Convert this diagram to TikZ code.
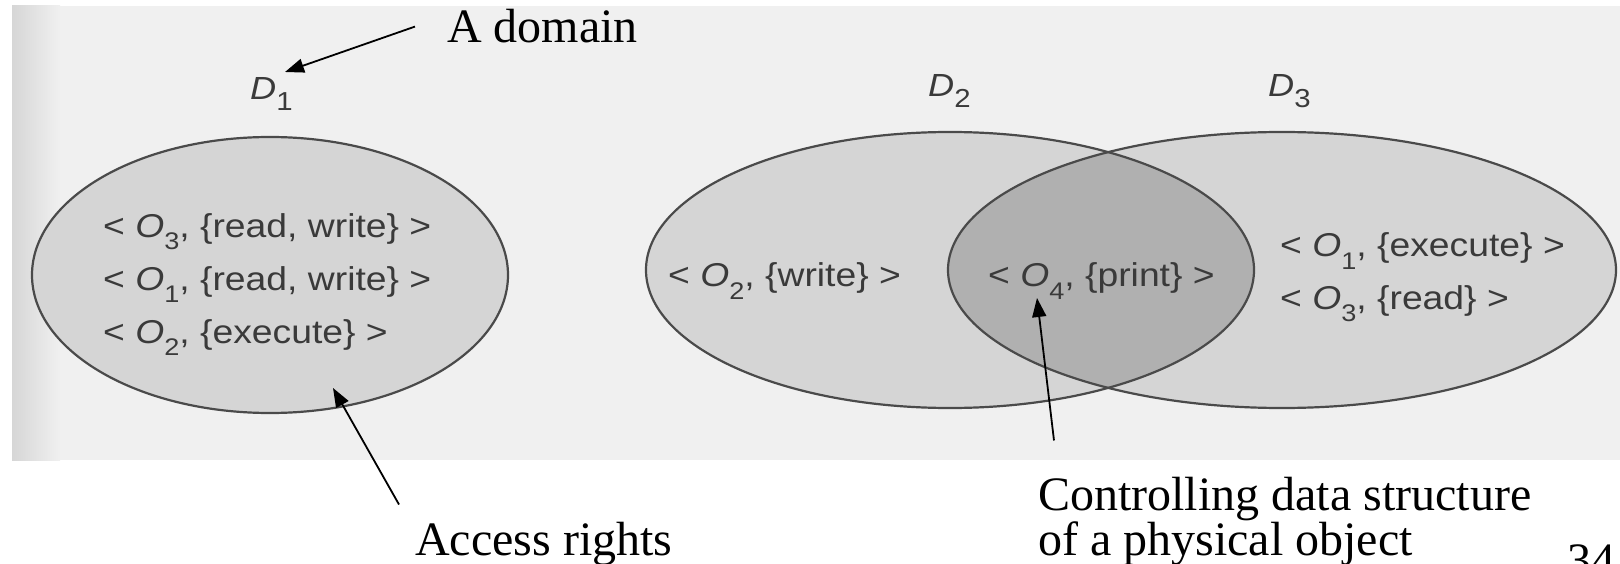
\documentclass[tikz,border=0pt]{standalone}
\usepackage{fontspec}
\setmainfont{Liberation Serif}
\newfontfamily\scanfont[FakeStretch=1.13]{Liberation Sans}
\usetikzlibrary{arrows.meta}
\definecolor{scanbg}{HTML}{F0F0F0}
\definecolor{scanedge}{HTML}{D6D6D6}
\definecolor{ellfill}{HTML}{D5D5D5}
\definecolor{overlapfill}{HTML}{B0B0B0}
\definecolor{ellline}{HTML}{4A4A4A}
\definecolor{scantext}{HTML}{3A3A3A}
\newcommand\Obj[1]{{\itshape O}\raisebox{-0.38em}{\fontsize{24}{24}\selectfont #1}}
\newcommand\Dom[1]{{\itshape D}\raisebox{-0.32em}{\fontsize{26}{26}\selectfont #1}}
\tikzset{
  lbl/.style={font=\fontsize{48}{50}\selectfont, anchor=base west, inner sep=2pt},
  pair/.style={font=\scanfont\fontsize{33}{33}\selectfont, text=scantext, anchor=base west, inner sep=0pt},
  dlabel/.style={font=\scanfont\fontsize{32}{32}\selectfont, text=scantext, anchor=base west, inner sep=0pt},
  pointer/.style={draw=black, line width=1.8pt, -{Triangle[length=19pt,width=14pt]}}
}
\begin{document}
\begin{tikzpicture}[x=1pt,y=-1pt]
\useasboundingbox (0,0) rectangle (1620,564);
\clip (0,0) rectangle (1620,564);
\fill[white] (0,0) rectangle (1620,564);
% scanned page background
\fill[scanbg] (12,6) rectangle (1620,460);
\shade[left color=scanedge, right color=scanbg] (12,6) rectangle (60,460);

% domains
\fill[ellfill] (270,275) ellipse [x radius=238, y radius=138];
\fill[ellfill] (950,270) ellipse [x radius=304, y radius=138];
\fill[ellfill] (1282,270) ellipse [x radius=334, y radius=138];
\begin{scope}
  \clip (950,270) ellipse [x radius=304, y radius=138];
  \fill[overlapfill] (1282,270) ellipse [x radius=334, y radius=138];
\end{scope}
\draw[ellline, line width=2.2pt] (270,275) ellipse [x radius=238, y radius=138];
\draw[ellline, line width=2.2pt] (950,270) ellipse [x radius=304, y radius=138];
\draw[ellline, line width=2.2pt] (1282,270) ellipse [x radius=334, y radius=138];

% domain labels
\node[dlabel] (D1) at (250,100) {\Dom{1}};
\node[dlabel] (D2) at (928,97) {\Dom{2}};
\node[dlabel] (D3) at (1268,97) {\Dom{3}};

% access rights in D1
\node[pair] (p13) at (103,237) {< \Obj{3}, \{read, write\} >};
\node[pair] (p11) at (103,290) {< \Obj{1}, \{read, write\} >};
\node[pair] (p12) at (103,343) {< \Obj{2}, \{execute\} >};
% D2
\node[pair] (p22) at (668,287) {< \Obj{2}, \{write\} >};
% overlap
\node[pair] (p24) at (988,287) {< \Obj{4}, \{print\} >};
% D3
\node[pair] (p31) at (1280,257) {< \Obj{1}, \{execute\} >};
\node[pair] (p33) at (1280,309) {< \Obj{3}, \{read\} >};

% annotations
\node[lbl] (adom) at (445,43) {A domain};
\node[lbl] (acc) at (413,555) {Access rights};
\node[lbl] (ctrlA) at (1036,510) {Controlling data structure};
\node[lbl] (ctrlB) at (1036,555) {of a physical object};
\node[lbl] (page) at (1565,576) {34};

\coordinate (tipD1) at (285,72);
\coordinate (tipAcc) at (333,388);
\coordinate (tipCtrl) at (1037,298);
\draw[pointer] ([xshift=-30pt]adom.west) -- (tipD1);
\draw[pointer] ([xshift=-14pt,yshift=15pt]acc.north west) -- (tipAcc);
\draw[pointer] ([xshift=18pt,yshift=34pt]ctrlA.north west) -- (tipCtrl);
\end{tikzpicture}
\end{document}
